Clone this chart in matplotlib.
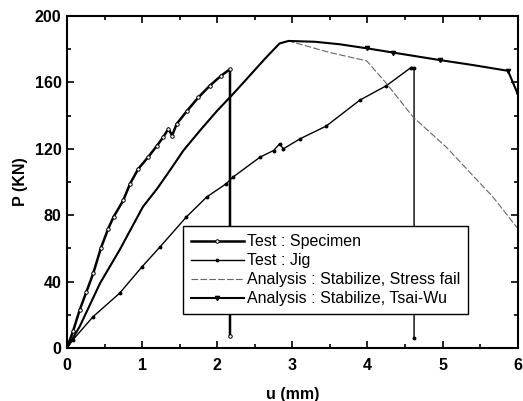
import matplotlib.pyplot as plt
import numpy as np
from matplotlib.ticker import MultipleLocator

plt.rcParams['font.family'] = ['Liberation Sans', 'DejaVu Sans']

# Test : Specimen (steep curve, fails near 2.15 mm)
spec_u = [0, 0.08, 0.17, 0.26, 0.35, 0.45, 0.55, 0.62, 0.75, 0.84, 0.95, 1.08,
          1.2, 1.28, 1.35, 1.40, 1.46, 1.6, 1.75, 1.9, 2.05, 2.17, 2.17]
spec_p = [0, 10, 23, 34, 45, 60, 72, 79, 89, 99, 108, 115,
          122, 127, 132, 128, 135, 143, 151, 158, 164, 168, 7]

# Test : Jig (lower curve, fails near 4.6 mm)
jig_u = [0, 0.08, 0.35, 0.70, 1.0, 1.24, 1.59, 1.86, 2.12, 2.21, 2.57, 2.75,
         2.83, 2.88, 3.10, 3.45, 3.90, 4.25, 4.58, 4.62, 4.62]
jig_p = [0, 5, 19, 33, 49, 61, 79, 91, 99, 103, 115, 119,
         123, 120, 126, 133.7, 149.4, 158, 169, 169, 6]

# shared analysis path up to peak
ana_u = [0, 0.17, 0.44, 0.70, 1.01, 1.2, 1.37, 1.55, 1.77,
         2.0, 2.21, 2.45, 2.65, 2.83, 2.95]
ana_p = [0, 13, 39, 59, 85, 96, 107, 119, 131,
         143, 153, 165, 175, 183.5, 185]

# Analysis : Stabilize, Stress fail (post-peak)
sf_u = ana_u + [3.5, 3.99, 4.25, 4.61, 5.05, 5.4, 5.67, 6.0]
sf_p = ana_p + [178, 173, 159.5, 139, 121, 104, 91, 72]

# Analysis : Stabilize, Tsai-Wu (post-peak)
tw_u = ana_u + [3.3, 3.63, 4.0, 4.34, 4.96, 5.4, 5.87, 6.0]
tw_p = ana_p + [184.5, 183, 180.5, 178, 173.5, 170.5, 167, 153]

fig = plt.figure(figsize=(5.23, 4.01), dpi=100)
ax = fig.add_axes([0.128, 0.132, 0.862, 0.828])

ax.plot(spec_u, spec_p, color='black', lw=1.8, marker='o', ms=2.5,
        mfc='white', mew=0.7, label='Test : Specimen')
ax.plot(jig_u, jig_p, color='black', lw=1.0, marker='o', ms=1.8,
        label='Test : Jig')
ax.plot(sf_u, sf_p, color='#666666', lw=0.8, ls=(0, (6, 2)),
        label='Analysis : Stabilize, Stress fail')
ax.plot(tw_u, tw_p, color='black', lw=1.5, marker='v', ms=3,
        markevery=[17, 18, 19, 21, 22], label='Analysis : Stabilize, Tsai-Wu')

ax.set_xlim(0, 6)
ax.set_ylim(0, 200)
ax.xaxis.set_major_locator(MultipleLocator(1))
ax.xaxis.set_minor_locator(MultipleLocator(0.5))
ax.yaxis.set_major_locator(MultipleLocator(40))
ax.yaxis.set_minor_locator(MultipleLocator(20))
ax.tick_params(which='both', direction='in', top=True, right=True, width=1.2)
ax.tick_params(which='major', length=5, labelsize=11.5)
ax.tick_params(axis='x', which='major', pad=7)
ax.tick_params(axis='y', which='major', pad=4)
ax.tick_params(which='minor', length=3)
for lbl in ax.get_xticklabels() + ax.get_yticklabels():
    lbl.set_fontweight('bold')
for s in ax.spines.values():
    s.set_linewidth(1.5)

ax.set_xlabel('u (mm)', fontsize=11.5, fontweight='bold', labelpad=10)
ax.set_ylabel('P (KN)', fontsize=11.5, fontweight='bold', labelpad=5)

leg = ax.legend(loc='lower left', bbox_to_anchor=(0.257, 0.102), fontsize=11.5,
                fancybox=False, edgecolor='black', framealpha=1,
                handlelength=3.3, handletextpad=0.2, labelspacing=0.25,
                borderpad=0.5, borderaxespad=0)
leg.get_frame().set_linewidth(1.0)

fig.savefig('out.png', dpi=100)
